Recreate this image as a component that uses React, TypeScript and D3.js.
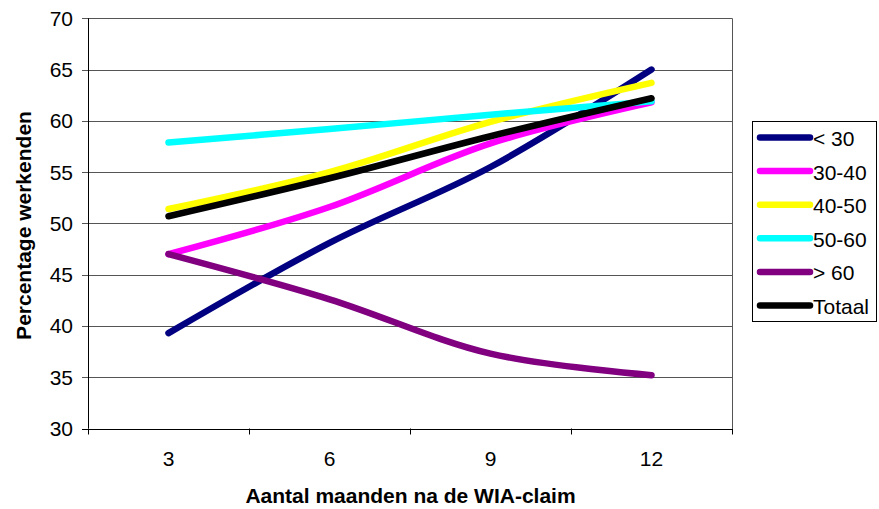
import React from "react";
import * as d3 from "d3";

const categories = ["3", "6", "9", "12"];
const seriesNames = ["< 30", "30-40", "40-50", "50-60", "> 60", "Totaal"];
const seriesColors = ["#000080", "#FF00FF", "#FFFF00", "#00FFFF", "#800080", "#000000"];
const valuesLt30 = [39.3, 48.1, 55.5, 65.0];
const values3040 = [47.0, 51.6, 57.8, 61.8];
const values4050 = [51.4, 55.0, 59.9, 63.7];
const values5060 = [57.9, 59.2, 60.6, 61.9];
const valuesGt60 = [47.0, 42.6, 37.3, 35.2];
const valuesTotaal = [50.7, 54.4, 58.5, 62.2];
const allValues = [valuesLt30, values3040, values4050, values5060, valuesGt60, valuesTotaal];
const yTicks = [30, 35, 40, 45, 50, 55, 60, 65, 70];

export default function App() {
  const W = 879, H = 509;
  const left = 88, right = 732, top = 18.3, bottom = 428.5;
  const x = d3.scaleBand<string>().domain(categories).range([left, right]);
  const y = d3.scaleLinear().domain([30, 70]).range([bottom, top]);
  const line = d3
    .line<number>()
    .x((_, i) => (x(categories[i]) as number) + x.bandwidth() / 2)
    .y((d) => y(d))
    .curve(d3.curveCatmullRom.alpha(0.5));
  const font = "'Liberation Sans', Arial, sans-serif";
  const fs = 21;
  const boundaries = [...categories.map((c) => x(c) as number), right];
  const legX = 752.5, legY = 121.5, legW = 124, legH = 200;
  const rowY = (i: number) => 137.5 + i * 33.6;
  return (
    <svg width={W} height={H} style={{ position: "absolute", left: 0, top: 0 }} fontFamily={font}>
      <rect width={W} height={H} fill="#fff" />
      {yTicks.map((t) => (
        <g key={t}>
          <line x1={left - 6} x2={right} y1={Math.round(y(t)) + 0.5} y2={Math.round(y(t)) + 0.5}
            stroke={t === 30 ? "#000" : "#555"} strokeWidth={1} />
          <text x={left - 15} y={y(t) + 7.5} textAnchor="end" fontSize={fs} fill="#000">{t}</text>
        </g>
      ))}
      <line x1={left + 0.5} x2={left + 0.5} y1={top} y2={bottom} stroke="#000" />
      <line x1={right + 0.5} x2={right + 0.5} y1={top} y2={bottom} stroke="#555" />
      {boundaries.map((b, i) => (
        <line key={i} x1={Math.round(b) + 0.5} x2={Math.round(b) + 0.5} y1={bottom} y2={bottom + 6} stroke="#000" />
      ))}
      {categories.map((c) => (
        <text key={c} x={(x(c) as number) + x.bandwidth() / 2} y={466} textAnchor="middle" fontSize={fs} fill="#000">{c}</text>
      ))}
      {allValues.map((vals, i) => (
        <path key={i} d={line(vals) || ""} fill="none" stroke={seriesColors[i]} strokeWidth={6.5}
          strokeLinecap="round" strokeLinejoin="round" />
      ))}
      <text x={410.5} y={503} textAnchor="middle" fontSize={fs} fontWeight="bold" fill="#000">Aantal maanden na de WIA-claim</text>
      <text transform={`translate(31,${225.5}) rotate(-90)`} textAnchor="middle" fontSize={fs} fontWeight="bold" fill="#000">Percentage werkenden</text>
      <rect x={legX} y={legY} width={legW} height={legH} fill="#fff" stroke="#000" strokeWidth={1} />
      {seriesNames.map((n, i) => (
        <g key={n}>
          <line x1={760} x2={810} y1={rowY(i)} y2={rowY(i)} stroke={seriesColors[i]} strokeWidth={6.5} strokeLinecap="round" />
          <text x={813} y={rowY(i) + 8.5} fontSize={fs} fill="#000">{n}</text>
        </g>
      ))}
    </svg>
  );
}
